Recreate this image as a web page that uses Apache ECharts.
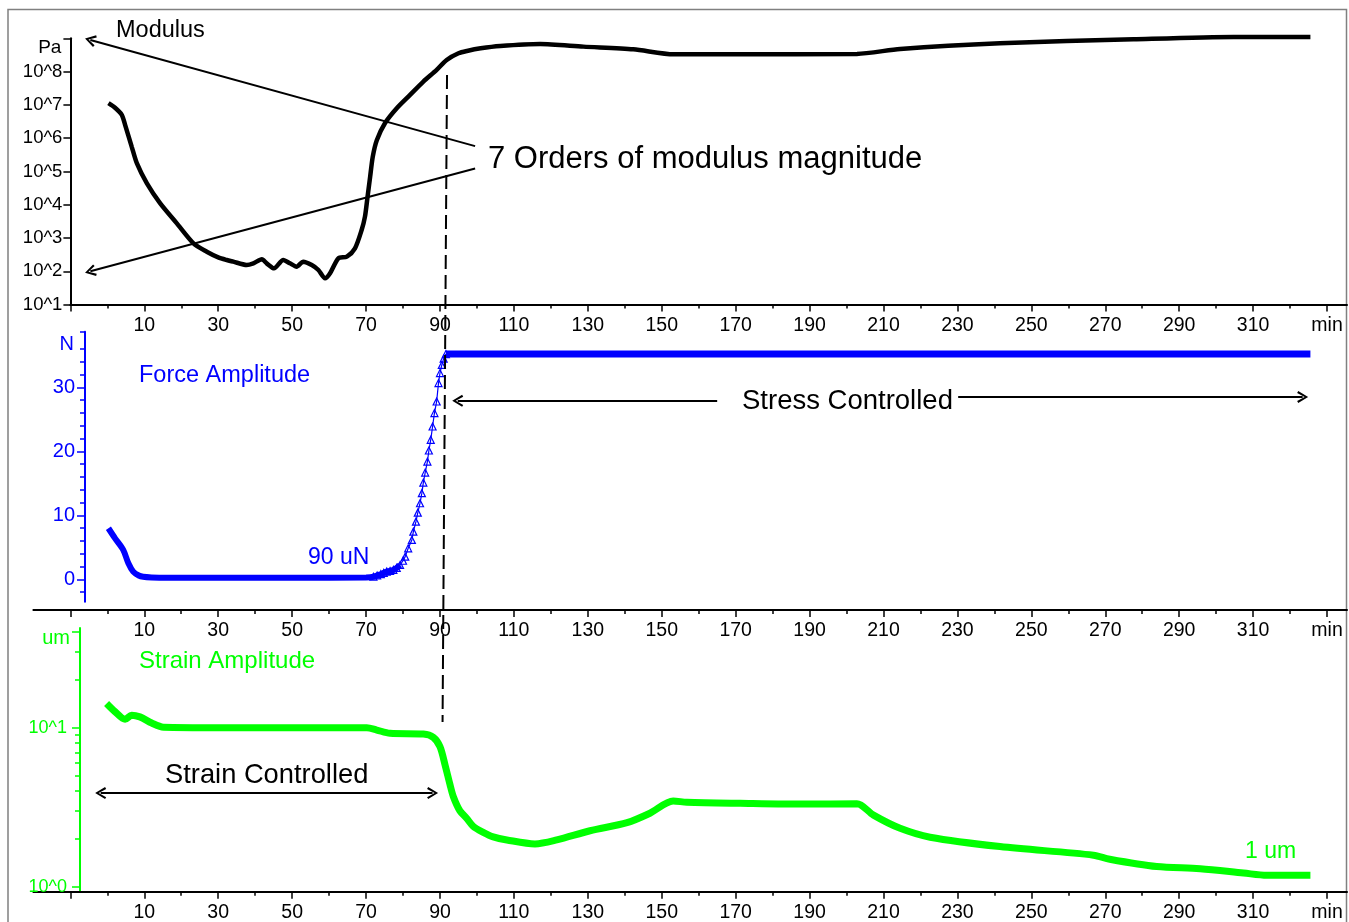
<!DOCTYPE html>
<html style="height: 100%">
<head>
    <meta charset="utf-8">
</head>
<body style="height: 100%; margin: 0; background: #fff">
<div id="container" style="height: 100%"></div>
<script type="text/javascript" src="https://cdn.jsdelivr.net/npm/echarts@6/dist/echarts.min.js"></script>
<script type="text/javascript">
    var dom = document.getElementById("container");
    var myChart = echarts.init(dom);
    var option;

    const FONT = '"Liberation Sans", Arial, sans-serif';
    const BLUE = '#0000ff';
    const GREEN = '#00ff00';

    // time axis (min), shared by the three panels
    const xMajorTicks = [-10, 10, 30, 50, 70, 90, 110, 130, 150, 170, 190, 210, 230, 250, 270, 290, 310, 330];
    const xMinorTicks = [0, 20, 40, 60, 80, 100, 120, 140, 160, 180, 200, 220, 240, 260, 280, 300, 320];
    const xLabels = [10, 30, 50, 70, 90, 110, 130, 150, 170, 190, 210, 230, 250, 270, 290, 310, 330];

    // modulus, log10(Pa)
    const modulusTicks = [1, 2, 3, 4, 5, 6, 7, 8, 9];
    const modulusLabels = [1, 2, 3, 4, 5, 6, 7, 8];
    const modulusTime = [0.3, 2.0, 3.9, 4.8, 6.6, 8.0, 10.7, 14.3, 18.8, 23.3, 26.9, 30.0, 32.3, 34.1, 37.7, 39.5,
        41.8, 43.1, 45.1, 47.6, 49.4, 51.2, 53.0, 55.3, 57.1, 58.9, 60.3, 62.5, 64.8, 67.0, 68.8, 69.7, 70.4, 71.1,
        71.8, 72.9, 75.1, 78.3, 81.9, 85.5, 89.1, 91.8, 95.0, 97.3, 101.0, 106.3, 117.1, 128.8, 142.3, 153.2, 169.4,
        202.8, 214.5, 241.5, 277.6, 304.7, 325.5];
    const modulusExp = [7.05, 6.92, 6.70, 6.40, 5.74, 5.24, 4.64, 4.04, 3.44, 2.84, 2.59, 2.42, 2.34, 2.29, 2.19, 2.24,
        2.36, 2.24, 2.09, 2.34, 2.24, 2.14, 2.29, 2.19, 2.04, 1.79, 1.95, 2.39, 2.44, 2.69, 3.24, 3.64, 4.24, 4.84,
        5.44, 5.94, 6.45, 6.90, 7.30, 7.70, 8.05, 8.35, 8.55, 8.62, 8.70, 8.77, 8.83, 8.75, 8.67, 8.52, 8.52,
        8.53, 8.68, 8.85, 8.97, 9.04, 9.04];

    // force amplitude (N)
    const forceMajorTicks = [0, 10, 20, 30];
    const forceMinorTicks = [-2, 2, 4, 6, 8, 12, 14, 16, 18, 22, 24, 26, 28, 32, 34, 36, 38.7];
    const forceLowTime = [0.3, 2.1, 4.3, 5.7, 7.0, 8.5, 9.7, 12.0, 16.0, 30.0, 50.0, 70.0, 72.0, 74.0, 75.6, 77.4, 79.2];
    const forceLow = [7.98, 6.4, 4.6, 2.5, 1.2, 0.6, 0.4, 0.3, 0.25, 0.25, 0.25, 0.3, 0.4, 0.8, 1.2, 1.46, 2.24];
    const forceRiseTime = [72.0, 73.0, 74.0, 74.8, 75.6, 76.5, 77.4, 78.3, 79.2, 80.0, 80.6, 81.4, 82.4, 82.8, 83.5,
        84.0, 84.6, 85.1, 85.5, 86.0, 86.6, 87.0, 87.5, 88.0, 88.5, 89.1, 89.6, 90.0, 90.5, 91.0, 91.6];
    const forceRise = [0.4, 0.6, 0.8, 1.0, 1.2, 1.3, 1.46, 1.8, 2.24, 2.9, 3.54, 4.85, 6.15, 7.45, 9.01,
        10.42, 11.89, 13.46, 15.12, 16.68, 18.40, 20.13, 21.80, 23.88, 25.98, 27.79, 30.67, 32.24, 33.5, 34.5, 35.2];
    const forceHighTime = [91.6, 120.0, 200.0, 325.5];
    const forceHigh = [35.2, 35.2, 35.2, 35.2];

    // strain amplitude (um), log axis
    const strainMajorTicks = [1, 10, 40];
    const strainMinorTicks = [2, 3, 4, 5, 6, 7, 8, 9, 20, 30];
    const strainLabels = [1, 10];
    const strainTime = [-0.2, 2.1, 4.8, 6.6, 8.8, 12.0, 15.2, 30.0, 50.0, 70.2, 72.9, 76.5, 85.5, 88.2, 90.0, 91.4,
        92.7, 93.6, 95.4, 97.2, 99.0, 101.7, 104.4, 108.1, 115.7, 121.6, 130.6, 140.6, 146.8, 153.1, 156.8, 171.2,
        189.2, 202.8, 207.3, 214.5, 222.6, 241.5, 266.8, 271.2, 283.9, 295.7, 307.4, 313.7, 325.5];
    const strain = [14.2, 12.6, 11.3, 12.0, 11.7, 10.7, 10.07, 10.0, 10.0, 10.0, 9.67, 9.22, 9.12, 8.7, 7.6, 5.8,
        4.4, 3.7, 3.0, 2.7, 2.4, 2.2, 2.06, 1.97, 1.86, 1.97, 2.25, 2.53, 2.9, 3.46, 3.40, 3.35,
        3.31, 3.33, 2.82, 2.33, 2.05, 1.79, 1.58, 1.49, 1.34, 1.30, 1.22, 1.18, 1.18];

    const log10 = v => Math.log10(v);
    const pairs = (xs, ys, f) => xs.map((x, i) => [x, f ? f(ys[i]) : ys[i]]);

    const chevron = 'path://M5,0 L10,9 L8.4,10 L5,3.2 L1.6,10 L0,9 Z';

    function timeAxes(gridIndex, min, offset) {
        const base = {
            type: 'value', gridIndex: gridIndex, min: min, max: 335.4, position: 'bottom', offset: offset,
            splitLine: {show: false}
        };
        return [
            Object.assign({}, base, {
                axisLine: {show: true, onZero: false, lineStyle: {color: '#000', width: 2}},
                axisTick: {show: true, length: 7, customValues: xMajorTicks, lineStyle: {color: '#000', width: 1.5}},
                axisLabel: {
                    show: true, customValues: xLabels, margin: 11, color: '#000', fontSize: 19.5, fontFamily: FONT,
                    formatter: v => v === 330 ? 'min' : String(v)
                }
            }),
            Object.assign({}, base, {
                axisLine: {show: false, onZero: false},
                axisTick: {show: true, length: 4, customValues: xMinorTicks, lineStyle: {color: '#000', width: 1.5}},
                axisLabel: {show: false}
            })
        ];
    }

    const xAxes = [].concat(timeAxes(0, -10, 0), timeAxes(1, -20, 8.3), timeAxes(2, -20, 0));

    const yAxes = [
        {
            type: 'value', gridIndex: 0, min: 1, max: 9, position: 'left',
            axisLine: {show: true, onZero: false, lineStyle: {color: '#000', width: 2}},
            axisTick: {show: true, length: 7, customValues: modulusTicks, lineStyle: {color: '#000', width: 1.5}},
            axisLabel: {
                customValues: modulusLabels, margin: 8, color: '#000', fontSize: 18.5, fontFamily: FONT,
                formatter: v => '10^' + v
            },
            splitLine: {show: false},
            name: 'Pa', nameLocation: 'end', nameGap: 0,
            nameTextStyle: {align: 'right', verticalAlign: 'top', padding: [0, 9, 0, 0], color: '#000', fontSize: 19, fontFamily: FONT}
        },
        {
            type: 'value', gridIndex: 1, min: -3.5, max: 38.7, position: 'left', offset: -51.6,
            axisLine: {show: true, onZero: false, lineStyle: {color: BLUE, width: 2}},
            axisTick: {show: true, length: 8, customValues: forceMajorTicks, lineStyle: {color: BLUE, width: 1.5}},
            axisLabel: {customValues: forceMajorTicks, margin: 10, color: BLUE, fontSize: 20, fontFamily: FONT},
            splitLine: {show: false},
            name: 'N', nameLocation: 'end', nameGap: -3,
            nameTextStyle: {align: 'right', verticalAlign: 'top', padding: [0, 11, 0, 0], color: BLUE, fontSize: 20, fontFamily: FONT}
        },
        {
            type: 'value', gridIndex: 1, min: -3.5, max: 38.7, position: 'left', offset: -51.6,
            axisLine: {show: false, onZero: false},
            axisTick: {show: true, length: 5, customValues: forceMinorTicks, lineStyle: {color: BLUE, width: 1.5}},
            axisLabel: {show: false},
            splitLine: {show: false}
        },
        {
            type: 'value', gridIndex: 2, min: -0.031, max: 1.627, position: 'left', offset: -46.6,
            axisLine: {show: true, onZero: false, lineStyle: {color: GREEN, width: 2}},
            axisTick: {show: true, length: 8, customValues: strainMajorTicks.map(log10), lineStyle: {color: GREEN, width: 1.5}},
            axisLabel: {
                customValues: strainLabels.map(log10), margin: 13, color: GREEN, fontSize: 18, fontFamily: FONT,
                formatter: v => '10^' + Math.round(v)
            },
            splitLine: {show: false},
            name: 'um', nameLocation: 'end', nameGap: 0,
            nameTextStyle: {align: 'right', verticalAlign: 'top', padding: [0, 10, 0, 0], color: GREEN, fontSize: 20, fontFamily: FONT}
        },
        {
            type: 'value', gridIndex: 2, min: -0.031, max: 1.627, position: 'left', offset: -46.6,
            axisLine: {show: false, onZero: false},
            axisTick: {show: true, length: 5, customValues: strainMinorTicks.map(log10), lineStyle: {color: GREEN, width: 1.5}},
            axisLabel: {show: false},
            splitLine: {show: false}
        }
    ];

    const arrowLine = {color: '#000', width: 2, type: 'solid'};

    option = {
        animation: false,
        backgroundColor: '#fff',
        grid: [
            {left: 70.4, right: 2, top: 38.3, height: 266.3, outerBoundsMode: 'none'},
            {left: 33.4, right: 2, top: 331.7, height: 270, outerBoundsMode: 'none'},
            {left: 33.4, right: 2, top: 628, height: 263.7, outerBoundsMode: 'none'}
        ],
        xAxis: xAxes,
        yAxis: yAxes,
        series: [
            {
                name: 'Modulus', type: 'line', xAxisIndex: 0, yAxisIndex: 0,
                data: pairs(modulusTime, modulusExp), symbol: 'none', clip: false, smooth: 0.25,
                lineStyle: {color: '#000', width: 4.5},
                markLine: {
                    silent: true, animation: false, symbol: ['none', chevron], symbolSize: [12, 11],
                    label: {show: false}, lineStyle: arrowLine,
                    data: [
                        [{coord: [99.5, 5.76]}, {coord: [-4.6, 8.95]}],
                        [{coord: [99.5, 5.09]}, {coord: [-4.6, 2.0]}]
                    ]
                }
            },
            {
                name: 'Force low', type: 'line', xAxisIndex: 2, yAxisIndex: 1,
                data: pairs(forceLowTime, forceLow), symbol: 'none', smooth: 0.3,
                lineStyle: {color: BLUE, width: 6}
            },
            {
                name: 'Force rise', type: 'line', xAxisIndex: 2, yAxisIndex: 1,
                data: pairs(forceRiseTime, forceRise), symbol: 'triangle', symbolSize: 7, showAllSymbol: true,
                itemStyle: {color: 'rgba(0,0,0,0)', borderColor: BLUE, borderWidth: 1.2},
                lineStyle: {color: BLUE, width: 1.2}
            },
            {
                name: 'Force high', type: 'line', xAxisIndex: 2, yAxisIndex: 1,
                data: pairs(forceHighTime, forceHigh), symbol: 'none',
                lineStyle: {color: BLUE, width: 7},
                markLine: {
                    silent: true, animation: false, symbol: ['none', chevron], symbolSize: [12, 11],
                    label: {show: false}, lineStyle: arrowLine,
                    data: [
                        [{coord: [165.0, 27.9]}, {coord: [94.8, 27.9]}],
                        [{coord: [230.2, 28.5]}, {coord: [323.4, 28.5]}]
                    ]
                }
            },
            {
                name: 'Strain', type: 'line', xAxisIndex: 4, yAxisIndex: 3,
                data: pairs(strainTime, strain, log10), symbol: 'none', smooth: 0.3,
                lineStyle: {color: GREEN, width: 7},
                markLine: {
                    silent: true, animation: false, symbol: [chevron, chevron], symbolSize: [12, 11],
                    label: {show: false}, lineStyle: arrowLine,
                    data: [
                        [{coord: [-1.8, 0.589]}, {coord: [88.0, 0.589]}]
                    ]
                }
            }
        ],
        graphic: [
            {type: 'rect', silent: true, z: 0, shape: {x: 8, y: 9.5, width: 1338.5, height: 950},
                style: {fill: 'none', stroke: '#808080', lineWidth: 1.5}},
            {type: 'text', left: 116, top: 19, style: {text: 'Modulus', fill: '#000', fontSize: 23.5, fontFamily: FONT}},
            {type: 'text', left: 488, top: 144, style: {text: '7 Orders of modulus magnitude', fill: '#000', fontSize: 31, fontFamily: FONT}},
            {type: 'text', left: 139, top: 363.5, style: {text: 'Force Amplitude', fill: BLUE, fontSize: 23.5, fontFamily: FONT}},
            {type: 'text', left: 308, top: 546.5, style: {text: '90 uN', fill: BLUE, fontSize: 23, fontFamily: FONT}},
            {type: 'text', left: 742, top: 387.5, style: {text: 'Stress Controlled', fill: '#000', fontSize: 27.5, fontFamily: FONT}},
            {type: 'text', left: 139, top: 649, style: {text: 'Strain Amplitude', fill: GREEN, fontSize: 24, fontFamily: FONT}},
            {type: 'text', left: 165, top: 762, style: {text: 'Strain Controlled', fill: '#000', fontSize: 27.3, fontFamily: FONT}},
            {type: 'text', left: 1245, top: 840.5, style: {text: '1 um', fill: GREEN, fontSize: 23, fontFamily: FONT}}
        ]
    };

    if (option && typeof option === 'object') {
        myChart.setOption(option);
    }

    // dashed marker at the switch from strain to stress control (~91 min)
    const dashTop = myChart.convertToPixel({gridIndex: 0}, [91.9, 7.9]);
    const dashBottom = myChart.convertToPixel({gridIndex: 2}, [90.7, 1.036]);
    myChart.setOption({
        graphic: [{
            id: 'switch', type: 'line', silent: true, z: 10,
            shape: {x1: dashTop[0], y1: dashTop[1], x2: dashBottom[0], y2: dashBottom[1]},
            style: {stroke: '#000', lineWidth: 2, lineDash: [14, 6]}
        }]
    });
</script>
</body>
</html>
